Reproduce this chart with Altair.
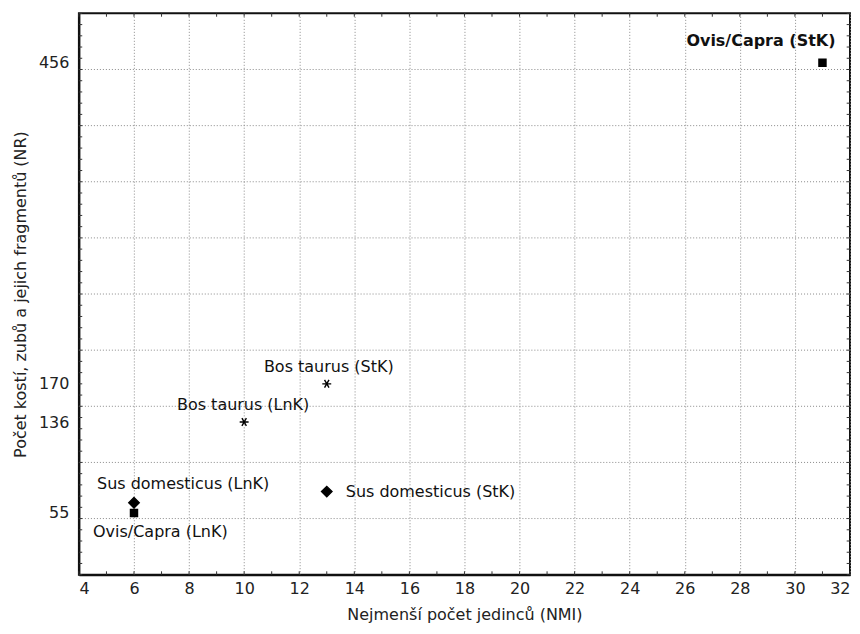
import altair as alt
import pandas as pd

# ---- data ----
species = [
    "Ovis/Capra (StK)",
    "Bos taurus (StK)",
    "Bos taurus (LnK)",
    "Sus domesticus (LnK)",
    "Ovis/Capra (LnK)",
    "Sus domesticus (StK)",
]
group = ["Ovis/Capra", "Bos taurus", "Bos taurus", "Sus domesticus", "Ovis/Capra", "Sus domesticus"]
nmi = [31, 13, 10, 6, 6, 13]
nr = [456, 170, 136, 64, 55, 74]

x_tick_values = list(range(4, 33, 2))
x_minor_values = list(range(4, 33))
y_label_values = [55, 136, 170, 456]
y_grid_values = [50, 100, 150, 200, 250, 300, 350, 400, 450]
y_minor_values = list(range(0, 501, 10))
x_domain = [4, 32]
y_domain = [0, 500]

# label styling (not data)
label_styles = [
    dict(align="right", dx=13, dy=-22, bold=True),
    dict(align="center", dx=2, dy=-17, bold=False),
    dict(align="center", dx=-1, dy=-17, bold=False),
    dict(align="left", dx=-37, dy=-19, bold=False),
    dict(align="left", dx=-41, dy=19, bold=False),
    dict(align="left", dx=19, dy=0, bold=False),
]

FONT = "DejaVu Sans"
FS = 16

df = pd.DataFrame({"species": species, "group": group, "nmi": nmi, "nr": nr})
xs = alt.Scale(domain=x_domain, nice=False, zero=False)
ys = alt.Scale(domain=y_domain, nice=False, zero=False)

asterisk = "M-1,0L1,0M-0.5,-0.866L0.5,0.866M-0.5,0.866L0.5,-0.866"

base = alt.Chart(df)

x_enc = alt.X(
    "nmi:Q", scale=xs,
    title="Nejmenší počet jedinců (NMI)",
    axis=alt.Axis(values=x_tick_values, grid=True, gridDash=[1, 2], gridColor="#8a8a8a",
                  gridWidth=1, tickSize=0, labelPadding=6, titlePadding=10,
                  domainColor="#111", domainWidth=2),
)
y_enc = alt.Y(
    "nr:Q", scale=ys,
    title="Počet kostí, zubů a jejich fragmentů (NR)",
    axis=alt.Axis(values=y_label_values, grid=False, tickSize=0, labelPadding=10,
                  titlePadding=10, domainColor="#111", domainWidth=2),
)

# horizontal grid lines
hgrid = alt.Chart(pd.DataFrame({"g": y_grid_values})).mark_rule(
    color="#8a8a8a", strokeDash=[1, 2], strokeWidth=1
).encode(y=alt.Y("g:Q", scale=ys))

# minor ticks (inside the frame)
xm = pd.DataFrame({"v": x_minor_values})
ym = pd.DataFrame({"v": y_minor_values})
tick_color = "#333"
xt_bottom = alt.Chart(xm).mark_rule(color=tick_color, strokeWidth=1).encode(
    x=alt.X("v:Q", scale=xs), y=alt.datum(y_domain[0]), y2=alt.datum(y_domain[0] + 3))
xt_top = alt.Chart(xm).mark_rule(color=tick_color, strokeWidth=1).encode(
    x=alt.X("v:Q", scale=xs), y=alt.datum(y_domain[1]), y2=alt.datum(y_domain[1] - 3))
yt_left = alt.Chart(ym).mark_rule(color=tick_color, strokeWidth=1).encode(
    y=alt.Y("v:Q", scale=ys), x=alt.datum(x_domain[0]), x2=alt.datum(x_domain[0] + 0.12))
yt_right = alt.Chart(ym).mark_rule(color=tick_color, strokeWidth=1).encode(
    y=alt.Y("v:Q", scale=ys), x=alt.datum(x_domain[1]), x2=alt.datum(x_domain[1] - 0.12))

shape_scale = alt.Scale(domain=["Ovis/Capra", "Bos taurus", "Sus domesticus"],
                        range=["square", asterisk, "diamond"])
size_scale = alt.Scale(domain=["Ovis/Capra", "Bos taurus", "Sus domesticus"],
                       range=[50, 110, 45])

points = base.mark_point(filled=True, fill="black", stroke="black", strokeWidth=1.4, opacity=1).encode(
    x=x_enc, y=y_enc,
    shape=alt.Shape("group:N", scale=shape_scale, legend=None),
    size=alt.Size("group:N", scale=size_scale, legend=None),
)

texts = []
for sp, st in zip(species, label_styles):
    texts.append(
        base.transform_filter(alt.datum.species == sp).mark_text(
            align=st["align"], baseline="middle", dx=st["dx"], dy=st["dy"],
            font=FONT, fontSize=FS, fontWeight="bold" if st["bold"] else "normal",
            color="#111",
        ).encode(x=alt.X("nmi:Q", scale=xs), y=alt.Y("nr:Q", scale=ys), text="species:N")
    )

chart = alt.layer(hgrid, points, xt_bottom, xt_top, yt_left, yt_right, *texts).properties(
    width=772, height=562,
    autosize=alt.AutoSizeParams(type="none"),
    padding={"left": 71, "top": 5, "right": 2, "bottom": 51},
).configure_view(
    stroke="#111", strokeWidth=2
).configure_axis(
    labelFont=FONT, labelFontSize=FS, labelColor="#222",
    titleFont=FONT, titleFontSize=FS, titleColor="#222", titleFontWeight="normal",
)

chart.save("out.html", embed_options={"renderer": "svg", "actions": False})
